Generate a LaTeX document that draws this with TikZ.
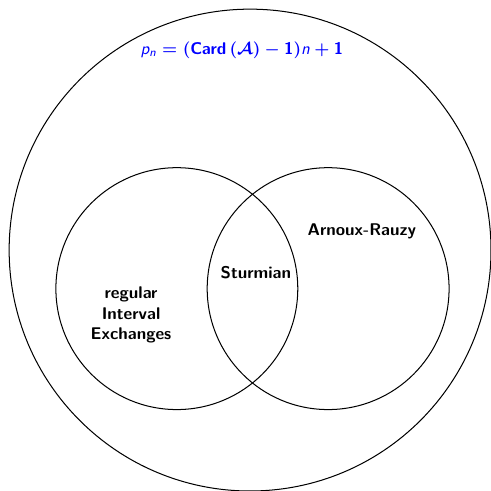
\documentclass[tikz,border=0pt]{standalone}
\DeclareMathAlphabet{\mathsfsl}{OT1}{cmss}{m}{sl}
\DeclareMathAlphabet{\mathsfbf}{OT1}{cmss}{bx}{n}
\newcommand{\pnformula}{{\boldmath$\mathsfsl{p}_{\mathsfsl{n}} = (\mathsfbf{Card}\,(\mathcal{A}) - \mathsfbf{1})\mathsfsl{n} + \mathsfbf{1}$}}

\begin{document}
\begin{tikzpicture}[semithick, every node/.style={font=\sffamily\bfseries}]
    \useasboundingbox (-5.19,-5.0) rectangle (5.0,5.19);

    \draw[black] (0,0) circle (5);
    \draw[black] (-1.52,-0.8) circle (2.51);
    \draw[black] (1.62,-0.8) circle (2.51);

    \node[blue] (pn) at (-0.17,4.15) {\pnformula};
    \node (sturm) at (0.12,-0.46) {Sturmian};
    \node (arnoux) at (2.32,0.39) {Arnoux-Rauzy};
    \node[align=center] (iet) at (-2.47,-1.35) {regular\\ Interval\hspace{0.8em}\\ Exchanges};
\end{tikzpicture}
\end{document}
